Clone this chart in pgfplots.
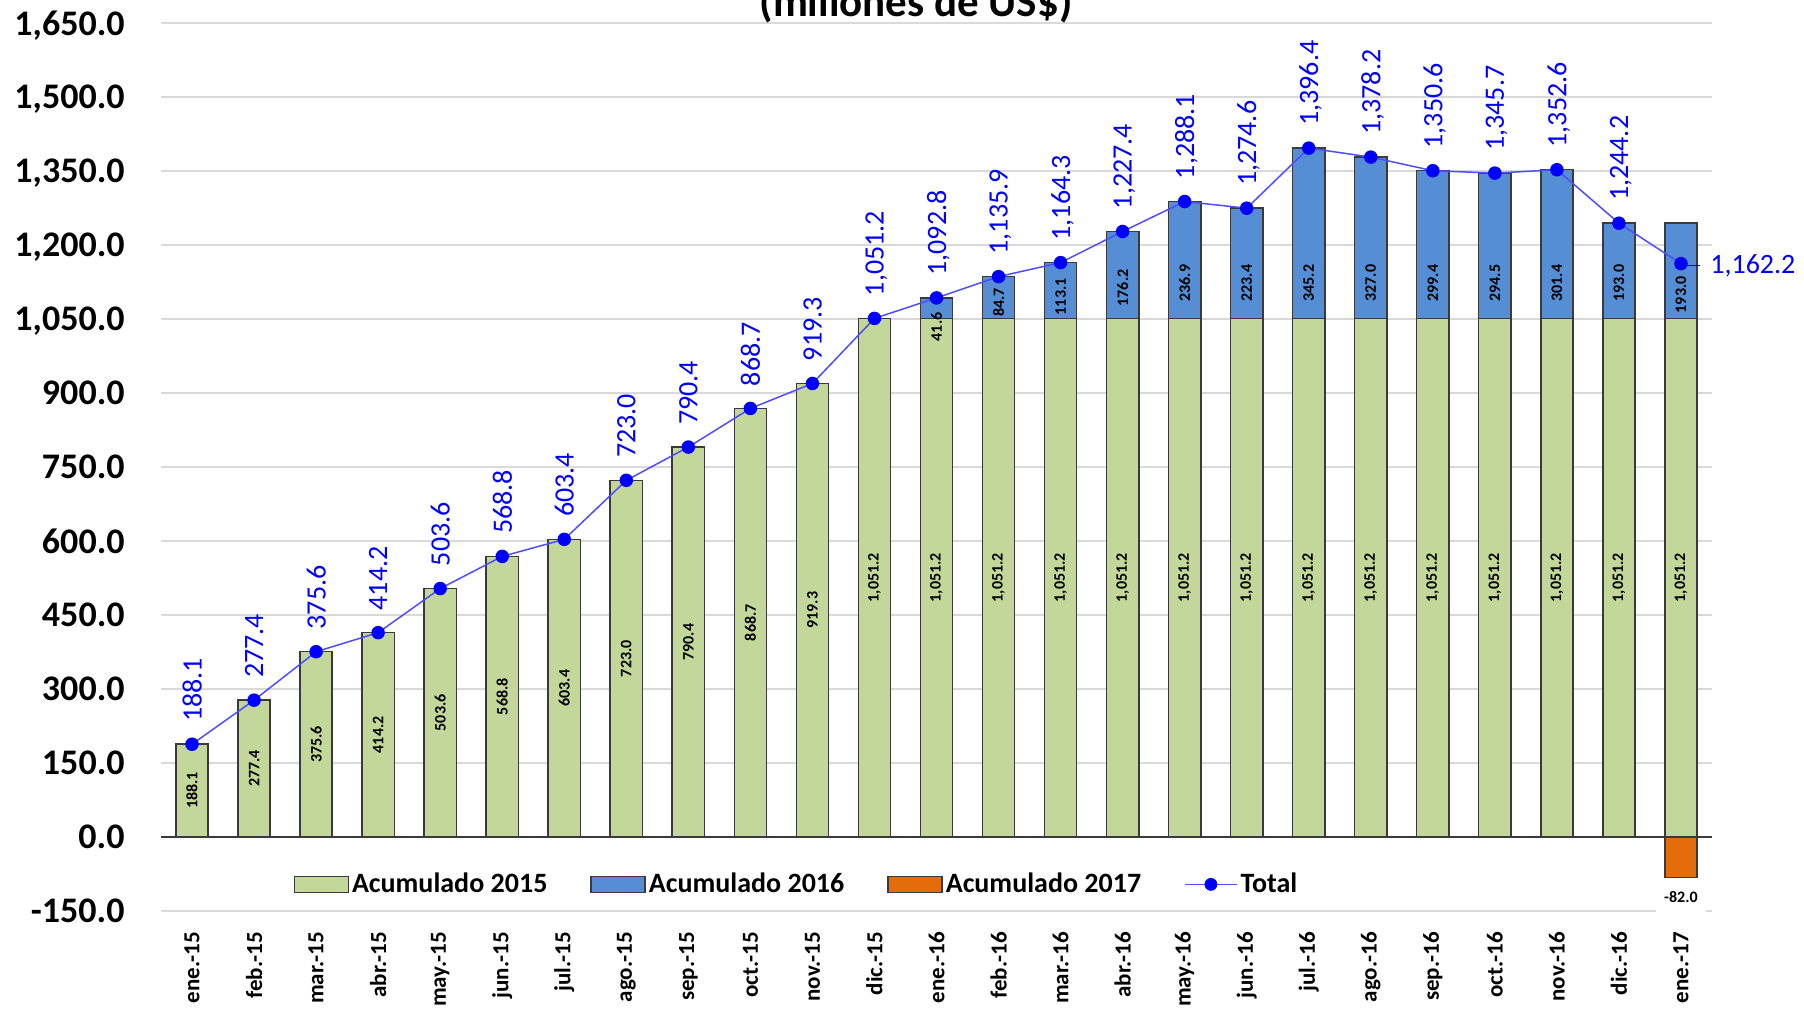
\documentclass[border=0pt]{standalone}
\usepackage{pgfplots}
\pgfplotsset{compat=1.18}
\usepackage{pgfplotstable}
\usepackage{fontspec}
\setmainfont{Carlito}

\definecolor{g15}{HTML}{C4D79B}
\definecolor{b16}{HTML}{558ED5}
\definecolor{o17}{HTML}{E46C0A}
\definecolor{barline}{HTML}{3A3A3A}
\definecolor{gridc}{HTML}{D9D9D9}
\definecolor{lineblue}{HTML}{4D4DFF}

% g: acumulado 2015, b: acumulado 2016, o: acumulado 2017, t: total
% bpos: height at which the 2016 value is written inside its bar
\pgfplotstableread{
x lab g b o t bpos
0 ene.-15 188.1 0 0 188.1 0
1 feb.-15 277.4 0 0 277.4 0
2 mar.-15 375.6 0 0 375.6 0
3 abr.-15 414.2 0 0 414.2 0
4 may.-15 503.6 0 0 503.6 0
5 jun.-15 568.8 0 0 568.8 0
6 jul.-15 603.4 0 0 603.4 0
7 ago.-15 723.0 0 0 723.0 0
8 sep.-15 790.4 0 0 790.4 0
9 oct.-15 868.7 0 0 868.7 0
10 nov.-15 919.3 0 0 919.3 0
11 dic.-15 1051.2 0 0 1051.2 0
12 ene.-16 1051.2 41.6 0 1092.8 1034
13 feb.-16 1051.2 84.7 0 1135.9 1084
14 mar.-16 1051.2 113.1 0 1164.3 1095
15 abr.-16 1051.2 176.2 0 1227.4 1113
16 may.-16 1051.2 236.9 0 1288.1 1123
17 jun.-16 1051.2 223.4 0 1274.6 1123
18 jul.-16 1051.2 345.2 0 1396.4 1123
19 ago.-16 1051.2 327.0 0 1378.2 1123
20 sep.-16 1051.2 299.4 0 1350.6 1123
21 oct.-16 1051.2 294.5 0 1345.7 1123
22 nov.-16 1051.2 301.4 0 1352.6 1123
23 dic.-16 1051.2 193.0 0 1244.2 1123
24 ene.-17 1051.2 193.0 -82.0 1162.2 1099
}\data

\begin{document}
\begin{tikzpicture}
\begin{axis}[
  scale only axis, width=775.5pt, height=444pt,
  xmin=-0.5, xmax=24.5, ymin=-150, ymax=1650,
  enlargelimits=false, clip=false,
  axis line style={draw=none},
  major tick length=0pt,
  xtick=\empty,
  ytick={-150,0,...,1650},
  ymajorgrids, grid style={gridc, line width=0.75pt},
  /pgf/number format/fixed,
  /pgf/number format/fixed zerofill,
  /pgf/number format/precision=1,
  /pgf/number format/1000 sep={,},
  /pgf/number format/assume math mode=true,
  yticklabel style={font=\fontsize{18}{20}\selectfont\bfseries, anchor=east, inner sep=0pt, text depth=0pt},
  yticklabel shift=18pt,
  legend columns=4,
  legend style={draw=none, fill=none, at={(0.41,0.03)}, anchor=center,
    font=\fontsize{14}{16}\selectfont\bfseries,
    nodes={inner xsep=1.5pt},
    /tikz/every even column/.append style={column sep=20pt}},
]
% bars: 2015+2016 in blue, 2015 drawn over it in green, 2017 below zero
\addplot[forget plot, ybar, bar width=0.52, bar shift=0pt, fill=b16, draw=barline, line width=0.75pt]
  table[x=x, y expr=\thisrow{g}+\thisrow{b}] {\data};
\addplot[forget plot, ybar, bar width=0.52, bar shift=0pt, fill=g15, draw=barline, line width=0.75pt]
  table[x=x, y=g] {\data};
\addplot[forget plot, ybar, bar width=0.52, bar shift=0pt, fill=o17, draw=barline, line width=0.75pt,
  skip coords between index={0}{24}]
  table[x=x, y=o] {\data};

% zero line
\draw[barline, line width=1.2pt] (axis cs:-0.5,0) -- (axis cs:24.5,0);

% total
\addplot[forget plot, color=lineblue, line width=0.75pt, mark=*, mark size=3pt,
  mark options={fill=blue, draw=blue}]
  table[x=x, y=t] {\data};

% month names under the axis
\addplot[forget plot, draw=none, point meta=explicit symbolic, nodes near coords,
  every node near coord/.append style={rotate=90, anchor=east, text=black,
    font=\fontsize{11.5}{13}\selectfont\bfseries, inner sep=0pt}]
  table[x=x, y expr=-192, meta=lab] {\data};

% values inside the green bars
\addplot[forget plot, draw=none, point meta=\thisrow{g}, nodes near coords,
  every node near coord/.append style={rotate=90, anchor=center, text=black,
    font=\fontsize{8}{9}\selectfont\bfseries, inner sep=0pt}]
  table[x=x, y expr=\thisrow{g}/2] {\data};
% values inside the blue bars
\addplot[forget plot, draw=none, point meta=\thisrow{b}, nodes near coords,
  skip coords between index={0}{12},
  every node near coord/.append style={rotate=90, anchor=center, text=black,
    font=\fontsize{8}{9}\selectfont\bfseries, inner sep=0pt}]
  table[x=x, y=bpos] {\data};
% value of the 2017 bar
\addplot[forget plot, draw=none, point meta=\thisrow{o}, nodes near coords,
  skip coords between index={0}{24},
  every node near coord/.append style={anchor=center, text=black, fill=white,
    font=\fontsize{8}{9}\selectfont\bfseries, inner xsep=4pt, minimum height=15pt}]
  table[x=x, y expr=\thisrow{o}-40] {\data};
% totals above the points
\addplot[forget plot, draw=none, point meta=\thisrow{t}, nodes near coords,
  skip coords between index={24}{25},
  every node near coord/.append style={rotate=90, anchor=west, text=blue,
    font=\fontsize{14}{15}\selectfont, inner ysep=0pt, inner xsep=11pt, text depth=0pt}]
  table[x=x, y=t] {\data};
% last total, beside its point
\addplot[forget plot, draw=none, point meta=\thisrow{t},
  nodes near coords={\rule[3.5pt]{9.5pt}{0.7pt}\hspace{5pt}\pgfmathprintnumber{\pgfplotspointmeta}},
  skip coords between index={0}{24},
  every node near coord/.append style={anchor=west, text=blue,
    font=\fontsize{14}{15}\selectfont, inner sep=0pt, text depth=0pt}]
  table[x=x, y=t] {\data};

\addlegendimage{legend image code/.code={\draw[fill=g15, draw=barline, line width=0.75pt] (0pt,-4pt) rectangle (27pt,4pt);}}
\addlegendentry{Acumulado 2015}
\addlegendimage{legend image code/.code={\draw[fill=b16, draw=barline, line width=0.75pt] (0pt,-4pt) rectangle (27pt,4pt);}}
\addlegendentry{Acumulado 2016}
\addlegendimage{legend image code/.code={\draw[fill=o17, draw=barline, line width=0.75pt] (0pt,-4pt) rectangle (27pt,4pt);}}
\addlegendentry{Acumulado 2017}
\addlegendimage{legend image code/.code={\draw[lineblue, line width=0.75pt] (0pt,0pt) -- (26pt,0pt); \fill[blue] (13pt,0pt) circle (3pt);}}
\addlegendentry{Total}
\end{axis}
\node[anchor=base, font=\fontsize{21.5}{24}\selectfont\bfseries, inner sep=0pt] at (377.5pt,447pt) {(millones de US\$)};
\pgfresetboundingbox
\path[use as bounding box] (-80.5pt,-49pt) rectangle (821.5pt,455.5pt);
\end{tikzpicture}
\end{document}
